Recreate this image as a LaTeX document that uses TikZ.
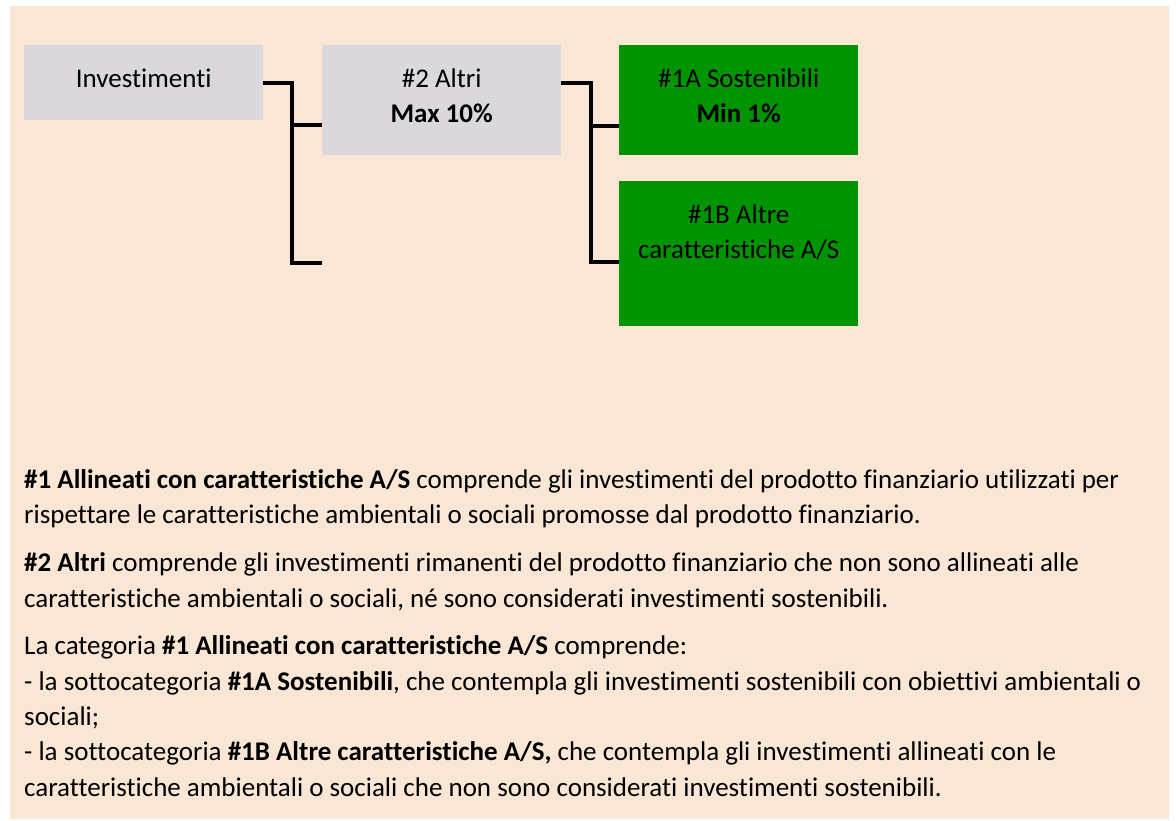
\documentclass[tikz,border=0pt]{standalone}
\usepackage{fontspec}
\setmainfont{Carlito}[Ligatures=NoCommon]
\usetikzlibrary{positioning,calc}
\definecolor{PeachBack}{HTML}{FAE6D4}
\definecolor{BoxGray}{HTML}{DAD8DD}
\definecolor{BoxGreen}{HTML}{009400}

\tikzset{
  catbox/.style={anchor=north west, inner sep=0pt, minimum width=239pt,
    align=center, font=\fontsize{27}{35}\selectfont},
  graybox/.style={catbox, fill=BoxGray},
  greenbox/.style={catbox, fill=BoxGreen},
  branch/.style={line width=4pt, black},
  notes/.style={anchor=base west, inner sep=0pt, align=left,
    font=\fontsize{27}{35.3}\selectfont}
}

\begin{document}
\begin{tikzpicture}[x=1pt,y=-1pt]
  \useasboundingbox (0,0) rectangle (1176,821);
  \fill[PeachBack] (10,6) rectangle (1169,819);

  % category boxes
  \node[graybox, text height=42pt, text depth=33pt] (inv) at (24,45) {Investimenti};
  \node[graybox, text height=77pt, text depth=33pt] (altri) at (322,45) {\#2 Altri\\\textbf{Max 10\%}};
  \node[greenbox, text height=77pt, text depth=33pt] (sost) at (619,45) {\#1A Sostenibili\\\textbf{Min 1\%}};
  \node[greenbox, text height=77pt, text depth=68pt] (caratt) at (619,181) {\#1B Altre\\caratteristiche A/S};

  % tree connectors
  \coordinate (end1) at (322,263);
  \draw[branch] (inv.east) -- ++(29,0) coordinate (fork1) |- (end1);
  \draw[branch] (fork1) |- ([yshift=-25pt]altri.west);
  \draw[branch] ([yshift=17pt]altri.east) -- ++(29.5,0) coordinate (fork2)
    |- ([yshift=-8.5pt]caratt.west);
  \draw[branch] (fork2) |- ([yshift=-26pt]sost.west);

  % explanatory text
  \node[notes] (legend) at (24,796) {%
    \textbf{\#1 Allineati con caratteristiche A/S} comprende gli investimenti del prodotto finanziario utilizzati per\\
    rispettare le caratteristiche ambientali o sociali promosse dal prodotto finanziario.\\[12.5pt]
    \textbf{\#2 Altri} comprende gli investimenti rimanenti del prodotto finanziario che non sono allineati alle\\
    caratteristiche ambientali o sociali, né sono considerati investimenti sostenibili.\\[12.5pt]
    La categoria \textbf{\#1 Allineati con caratteristiche A/S} comprende:\\
    - la sottocategoria \textbf{\#1A Sostenibili}, che contempla gli investimenti sostenibili con obiettivi ambientali o\\
    sociali;\\
    - la sottocategoria \textbf{\#1B Altre caratteristiche A/S,} che contempla gli investimenti allineati con le\\
    caratteristiche ambientali o sociali che non sono considerati investimenti sostenibili.};
\end{tikzpicture}
\end{document}
